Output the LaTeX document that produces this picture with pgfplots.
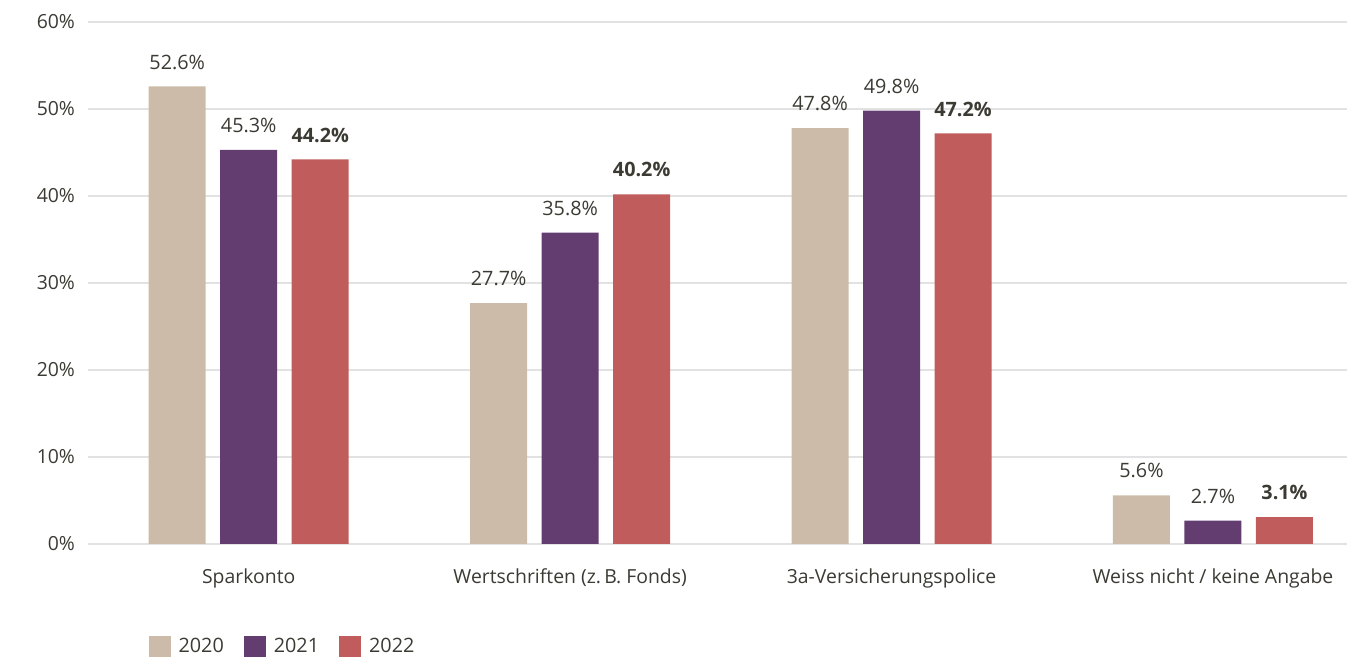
\documentclass[border=0pt]{standalone}
\usepackage{pgfplots}
\pgfplotsset{compat=1.18}
\usepackage{fontspec}
\setmainfont{Open Sans}
\definecolor{c20}{HTML}{CBBBA8}
\definecolor{c21}{HTML}{633D70}
\definecolor{c22}{HTML}{C05C5C}
\definecolor{txt}{HTML}{3B3A33}
\definecolor{gridc}{HTML}{E2E2E2}
\begin{document}
\begin{tikzpicture}[x=1pt,y=1pt]
\begin{axis}[
  at={(44pt,56.5pt)}, anchor=south west,
  scale only axis, width=629.5pt, height=261pt,
  xmin=-0.5, xmax=3.417, ymin=0, ymax=60,
  ybar=7.25pt, bar width=28.5pt,
  xtick={0,1,2,3},
  xticklabels={Sparkonto, Wertschriften (z.\,B. Fonds), 3a-Versicherungspolice, Weiss nicht / keine Angabe},
  ytick={0,10,20,30,40,50,60},
  yticklabel={\pgfmathprintnumber{\tick}\%},
  /pgf/number format/assume math mode=true,
  ymajorgrids, grid style={gridc, line width=0.6pt},
  axis line style={draw=none},
  major tick length=0pt,
  tick label style={font=\fontsize{9.7}{12}\selectfont, text=txt},
  xticklabel style={yshift=-9pt},
  yticklabel style={xshift=-3pt},
  nodes near coords={\pgfmathprintnumber[fixed,precision=1,fixed zerofill]{\pgfplotspointmeta}\%},
  every node near coord/.append style={font=\fontsize{9.9}{12}\selectfont, text=txt, yshift=5pt},
  legend columns=3,
  legend style={draw=none, fill=none, at={(0.043,-0.197)}, anchor=west,
    font=\fontsize{9.9}{12}\selectfont, text=txt,
    /tikz/every even column/.append style={column sep=8pt},
    /tikz/every odd column/.append style={column sep=2pt}},
  legend image code/.code={\fill[#1,draw=none] (0pt,-5.5pt) rectangle (11pt,5.5pt);},
  clip=false,
]
\addplot[fill=c20, draw=none] coordinates {(0,52.6) (1,27.7) (2,47.8) (3,5.6)};
\addplot[fill=c21, draw=none] coordinates {(0,45.3) (1,35.8) (2,49.8) (3,2.7)};
\addplot[fill=c22, draw=none, every node near coord/.append style={font=\fontsize{9.9}{12}\selectfont\bfseries}] coordinates {(0,44.2) (1,40.2) (2,47.2) (3,3.1)};
\legend{2020,2021,2022}
\end{axis}
\pgfresetboundingbox
\path (0,0) rectangle (673.5pt,328.5pt);
\end{tikzpicture}
\end{document}
